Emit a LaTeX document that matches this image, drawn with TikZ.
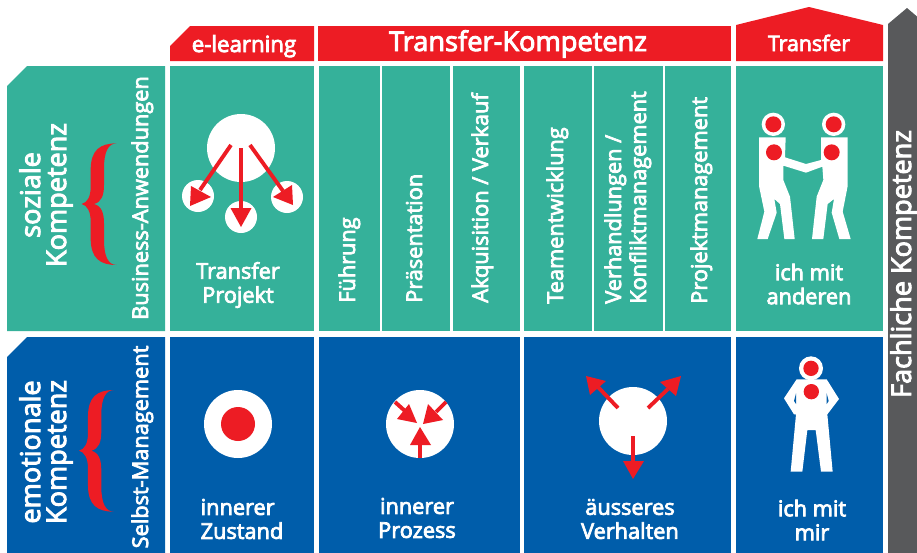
\documentclass[tikz,border=0pt]{standalone}
\usepackage{fontspec}
\setmainfont[FakeBold=3.5]{Open Sans}
\definecolor{teal1}{HTML}{35B19A}
\definecolor{blue1}{HTML}{005DAA}
\definecolor{red1}{HTML}{ED1C24}
\definecolor{gray1}{HTML}{58595B}
\tikzset{
  px/.style={x=0.75pt,y=-0.75pt},
  lab/.style={text=white,inner sep=0pt},
  celltxt/.style={lab,align=center,font=\fontsize{16.3pt}{18pt}\selectfont},
  vert/.style={lab,rotate=90,anchor=base west,font=\fontsize{16.3pt}{16pt}\selectfont},
  vertc/.style={lab,rotate=90,anchor=base,font=\fontsize{16.3pt}{16pt}\selectfont},
  bigtxt/.style={lab,rotate=90,align=center,font=\fontsize{20.3pt}{19.5pt}\selectfont},
  stem/.style={draw=red1,line width=2.9pt},
  tip/.style={fill=red1},
  wdisc/.style={fill=white},
  rdisc/.style={fill=red1},
}
\newcommand{\bracepath}{(350,430) .. controls (300,430) and (272,450) .. (272,510) -- (272,560) .. controls (272,590) and (262,608) .. (245,612) .. controls (262,616) and (272,635) .. (272,665) -- (272,715) .. controls (272,775) and (300,795) .. (350,795) .. controls (325,795) and (312,770) .. (312,720) -- (312,670) .. controls (312,640) and (305,618) .. (282,612) .. controls (305,606) and (312,585) .. (312,555) -- (312,505) .. controls (312,455) and (325,430) .. (350,430) -- cycle}
\begin{document}
\begin{tikzpicture}[px]
\useasboundingbox (0,0) rectangle (917,553);
% headers
\fill[red1] (170,46) -- (190,26) -- (314,26) -- (314,61) -- (170,61) -- cycle;
\fill[red1] (318,26) rectangle (731,61);
\fill[red1] (736,25) -- (809,7) -- (883,25) -- (883,61) -- (736,61) -- cycle;
\fill[gray1] (888,24) -- (907,8) -- (917,16.5) -- (917,553) -- (888,553) -- cycle;
% teal row
\fill[teal1] (7,86) -- (27,66) -- (165,66) -- (165,331) -- (7,331) -- cycle;
\foreach \a/\b in {170/314,319/379.5,382/450,453/519.5,524/592,594/663,665/731,736/883}
  \fill[teal1] (\a,66) rectangle (\b,331);
% blue row
\fill[blue1] (7,357) -- (27,337) -- (165,337) -- (165,553) -- (7,553) -- cycle;
\foreach \a/\b in {170/314,319/519.5,524/731,736/883}
  \fill[blue1] (\a,337) rectangle (\b,553);
% header texts
\node[lab,anchor=base,font=\fontsize{16.7pt}{18pt}\selectfont] (hE) at (244,52) {e-learning};
\node[lab,anchor=base,font=\fontsize{20.4pt}{18pt}\selectfont] (hK) at (518,51) {Transfer-Kompetenz};
\node[lab,anchor=base,font=\fontsize{16pt}{18pt}\selectfont] (hT) at (809,51) {Transfer};
\node[lab,rotate=90,anchor=base,font=\fontsize{20.3pt}{18pt}\selectfont] (fK) at (911,264) {Fachliche Kompetenz};
% left column
\node[bigtxt] (soz) at (46,195) {soziale\\Kompetenz};
\node[bigtxt] (emo) at (46,452) {emotionale\\Kompetenz};
\node[vertc] (bus) at (148,198) {Business-Anwendungen};
\node[vertc] (sel) at (148,447) {Selbst-Management};
\fill[red1,x=0.25pt,y=-0.25pt] \bracepath;
\begin{scope}[shift={(-2.7,246.7)},x=0.25pt,y=-0.25pt]
\fill[red1] \bracepath;
\end{scope}
% vertical competence labels
\node[vert] (v1) at (355,303) {Führung};
\node[vert] (v2) at (422,303) {Präsentation};
\node[vert] (v3) at (488,303) {Akquisition / Verkauf};
\node[vert] (v4) at (563,304) {Teamentwicklung};
\node[vert] (v5) at (621,304) {Verhandlungen /};
\node[vert] (v6) at (646,304) {Konfliktmanagement};
\node[vert] (v7) at (707,304) {Projektmanagement};
% cell captions
\node[celltxt] (c1) at (238,285) {Transfer\\Projekt};
\node[celltxt] (c2) at (809,284) {ich mit\\anderen};
\node[celltxt,align=left] (c3) at (242,519) {innerer\\Zustand};
\node[celltxt] (c4) at (417,518) {innerer\\Prozess};
\node[celltxt] (c5) at (630,519) {äusseres\\Verhalten};
\node[celltxt] (c6) at (812,520) {ich mit\\mir};
% Transfer Projekt icon
\fill[wdisc] (241,148) circle (34);
\fill[wdisc] (198,196) circle (16);
\fill[wdisc] (241,217) circle (16);
\fill[wdisc] (287,197) circle (16);
\draw[stem] (231,145) -- (200,190);
\fill[tip] (190,206) -- (191,186) -- (211,197) -- cycle;
\draw[stem] (241,148) -- (241,210);
\fill[tip] (241,227) -- (230.5,208) -- (251.5,208) -- cycle;
\draw[stem] (250,145) -- (283,191);
\fill[tip] (293,205) -- (292,185) -- (273,197) -- cycle;
% innerer Zustand
\fill[wdisc] (238,424) circle (34);
\fill[rdisc] (238,424) circle (17);
% innerer Prozess
\fill[wdisc] (420,424) circle (34);
\draw[stem] (395,402) -- (405,411);
\fill[tip] (417,423) -- (397,419) -- (409,404) -- cycle;
\draw[stem] (446,402) -- (436,412);
\fill[tip] (423,424) -- (428,404) -- (443,420) -- cycle;
\draw[stem] (420,458) -- (420,445);
\fill[tip] (420,427) -- (410,445) -- (431,445) -- cycle;
% aeusseres Verhalten
\fill[wdisc] (633,421) circle (34);
\draw[stem] (618,408) -- (598,387);
\fill[tip] (586,376) -- (590,395) -- (606,381) -- cycle;
\draw[stem] (648,408) -- (668,389);
\fill[tip] (681,376) -- (660,382) -- (676,396) -- cycle;
\draw[stem] (633,436) -- (633,461);
\fill[tip] (633,479) -- (623,461) -- (644,461) -- cycle;
% two figures
\begin{scope}[shift={(750,100)},x=0.25pt,y=-0.25pt]
\fill[white] (27,112) -- (107,112) -- (105,172) -- (168,192) -- (213,180) -- (213,112) -- (293,112) -- (293,258) -- (278,335) -- (302,417) -- (268,417) -- (245,338) -- (252,297) -- (233,312) -- (220,417) -- (186,417) -- (200,290) -- (220,240) -- (217,200) -- (168,218) -- (100,197) -- (100,240) -- (120,290) -- (134,417) -- (103,417) -- (90,312) -- (73,297) -- (80,338) -- (53,417) -- (22,417) -- (43,335) -- (27,258) -- cycle;
\fill[wdisc] (70,73) circle (35);
\fill[wdisc] (251,73) circle (35);
\fill[rdisc] (70,73) circle (24);
\fill[rdisc] (251,73) circle (24);
\fill[rdisc] (72,157) circle (24);
\fill[rdisc] (245,157) circle (24);
\end{scope}
% single figure
\begin{scope}[shift={(720,330)},x=0.25pt,y=-0.25pt]
\fill[white] (230,148) -- (320,148) -- (357,207) -- (322,253) -- (338,425) -- (303,425) -- (287,300) -- (262,300) -- (247,425) -- (212,425) -- (228,253) -- (222,253) -- (192,205) -- cycle;
\fill[blue1] (320,190) -- (326,213) -- (320,222) -- cycle;
\fill[blue1] (228,190) -- (222,213) -- (228,222) -- cycle;
\fill[wdisc] (273,115) circle (36);
\fill[rdisc] (273,115) circle (23);
\fill[rdisc] (274,185) circle (23);
\end{scope}
\end{tikzpicture}
\end{document}
